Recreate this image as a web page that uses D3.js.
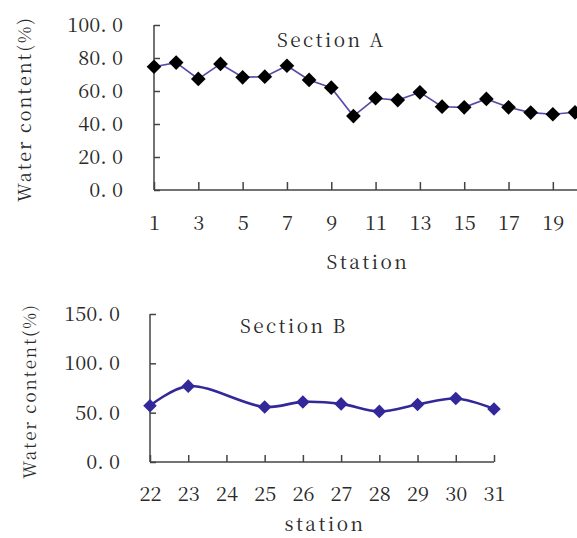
<!DOCTYPE html>
<html>
<head>
<meta charset="utf-8">
<script src="https://cdn.jsdelivr.net/npm/d3@7"></script>
<style>
  body { margin: 0; background: #fff; }
</style>
</head>
<body>
<script>
// Section A
const stationsA = [1, 2, 3, 4, 5, 6, 7, 8, 9, 10, 11, 12, 13, 14, 15, 16, 17, 18, 19, 20];
const waterA = [74.7, 77.2, 67.3, 76.4, 68.3, 68.7, 75.3, 66.7, 62.0, 44.8,
                55.6, 54.5, 59.2, 50.5, 50.1, 55.2, 50.1, 46.9, 45.9, 47.1];
const xTicksA = [1, 3, 5, 7, 9, 11, 13, 15, 17, 19];
const yTicksA = [0, 20, 40, 60, 80, 100];

// Section B (station 24 has no value)
const stationsB = [22, 23, 25, 26, 27, 28, 29, 30, 31];
const waterB = [57.1, 76.9, 55.8, 60.9, 58.9, 51.3, 58.2, 64.3, 53.8];
const xTicksB = [22, 23, 24, 25, 26, 27, 28, 29, 30, 31];
const yTicksB = [0, 50, 100, 150];

const W = 577, H = 538;
const serif = "Noto Serif CJK SC, DejaVu Serif, serif";
const txt = "#2a2a2a";
const svg = d3.select("body").append("svg").attr("width", W).attr("height", H)
  .style("font-family", serif);

const fmt = v => d3.format(".1f")(v).replace(".", ". ");
const axisCol = "#444";

function styleAxis(g) {
  g.attr("font-family", null);
  g.selectAll("line,path").attr("stroke", axisCol).attr("stroke-width", 1.5);
  g.selectAll("text").attr("font-size", 20)
    .attr("fill", txt).attr("xml:space", "preserve");
}

// ---------- chart A ----------
var xA = d3.scaleLinear().domain([1, 20]).range([154, 575]);
var yA = d3.scaleLinear().domain([0, 100]).range([190, 25]);

var gA = svg.append("g");

gA.append("g")
  .attr("transform", "translate(0,190)")
  .call(d3.axisBottom(xA).tickValues(xTicksA).tickSize(-8).tickPadding(16).tickFormat(d3.format("d")))
  .call(g => g.select(".domain").attr("d", "M154,0H577"))
  .call(styleAxis)
  .call(g => g.selectAll("text").attr("dy", "0.71em").attr("y", 26));

gA.append("g")
  .attr("transform", "translate(154,0)")
  .call(d3.axisLeft(yA).tickValues(yTicksA).tickSize(-6).tickPadding(31).tickFormat(fmt))
  .call(g => g.select(".domain").attr("d", "M0,25V190"))
  .call(styleAxis);

var lineA = d3.line().x((d, i) => xA(stationsA[i])).y(d => yA(d));
gA.append("path").datum(waterA)
  .attr("d", lineA).attr("fill", "none").attr("stroke", "#5a4aa8").attr("stroke-width", 1.6);

// diamonds = squares turned 45 degrees
gA.selectAll(".mA").data(waterA).enter().append("path")
  .attr("d", d3.symbol(d3.symbolSquare, 108))
  .attr("transform", (d, i) => "translate(" + xA(stationsA[i]) + "," + yA(d) + ") rotate(45)")
  .attr("fill", "#000");

gA.append("text").attr("x", 277).attr("y", 47).attr("font-size", 19)
  .attr("letter-spacing", 2.4).attr("fill", txt).text("Section A");
gA.append("text").attr("x", 368).attr("y", 269).attr("font-size", 19)
  .attr("letter-spacing", 2.5).attr("fill", txt).attr("text-anchor", "middle").text("Station");
gA.append("text").attr("transform", "translate(31,109) rotate(-90)")
  .attr("fill", txt).attr("font-size", 18).attr("text-anchor", "middle")
  .attr("letter-spacing", 2).text("Water content(%)");

// ---------- chart B ----------
var xB = d3.scaleLinear().domain([22, 31]).range([150, 494]);
var yB = d3.scaleLinear().domain([0, 150]).range([462, 314]);

var gB = svg.append("g");

gB.append("g")
  .attr("transform", "translate(0,462)")
  .call(d3.axisBottom(xB).tickValues(xTicksB).tickSize(-7).tickPadding(16).tickFormat(d3.format("d")))
  .call(g => g.select(".domain").attr("d", "M150,0H494"))
  .call(styleAxis)
  .call(g => g.selectAll("text").attr("dy", "0.71em").attr("y", 25));

gB.append("g")
  .attr("transform", "translate(150,0)")
  .call(d3.axisLeft(yB).tickValues(yTicksB).tickSize(-6).tickPadding(30).tickFormat(fmt))
  .call(g => g.select(".domain").attr("d", "M0,314V462"))
  .call(styleAxis);

var lineB = d3.line().x((d, i) => xB(stationsB[i])).y(d => yB(d)).curve(d3.curveCatmullRom.alpha(0.5));
gB.append("path").datum(waterB)
  .attr("d", lineB).attr("fill", "none").attr("stroke", "#33289a").attr("stroke-width", 2.6);

gB.selectAll(".mB").data(waterB).enter().append("path")
  .attr("d", d3.symbol(d3.symbolSquare, 92))
  .attr("transform", (d, i) => "translate(" + xB(stationsB[i]) + "," + yB(d) + ") rotate(45)")
  .attr("fill", "#33289a");

gB.append("text").attr("x", 240).attr("y", 333).attr("font-size", 19)
  .attr("letter-spacing", 2.4).attr("fill", txt).text("Section B");
gB.append("text").attr("x", 325).attr("y", 531).attr("font-size", 19)
  .attr("letter-spacing", 2.5).attr("fill", txt).attr("text-anchor", "middle").text("station");
gB.append("text").attr("transform", "translate(36,391) rotate(-90)")
  .attr("fill", txt).attr("font-size", 17).attr("text-anchor", "middle")
  .attr("letter-spacing", 1.9).text("Water content(%)");
</script>
</body>
</html>
